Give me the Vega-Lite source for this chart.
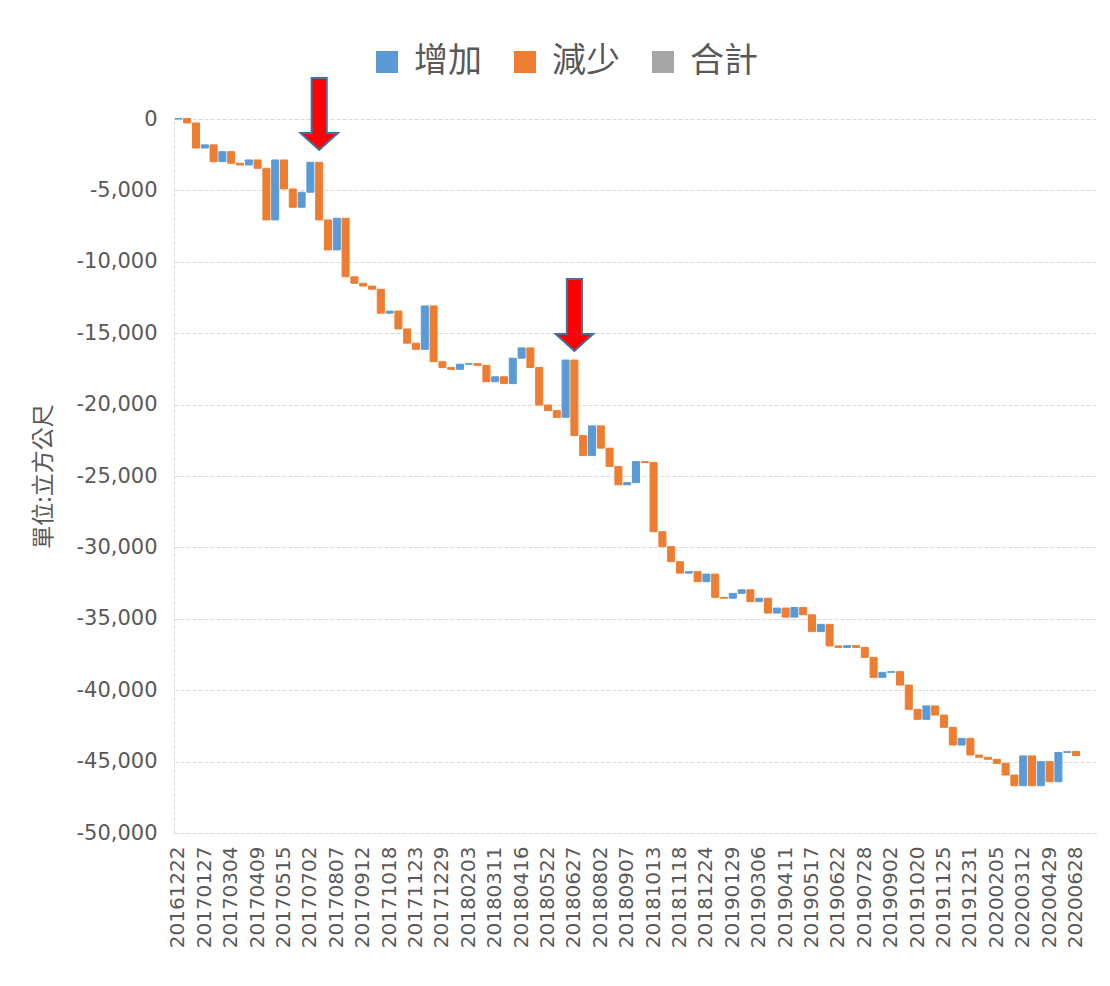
{
  "$schema": "https://vega.github.io/schema/vega-lite/v6.json",
  "autosize": "none",
  "width": 924,
  "height": 714,
  "padding": {"left": 174, "top": 119, "right": 12, "bottom": 153},
  "background": "white",
  "config": {
    "view": {"stroke": null},
    "axis": {"labelColor": "#595959", "titleColor": "#595959", "gridColor": "#d9d9d9", "gridDash": [4, 2], "domainColor": "#d9d9d9", "domainDash": [4, 2], "ticks": false},
    "legend": {"labelFont": "Noto Sans CJK TC", "labelFontSize": 34, "labelColor": "#595959"}
  },
  "datasets": {
    "wf": [
      {"date": "20161222", "start": 0, "end": 30, "type": "增加"},
      {"date": "20170103", "start": 30, "end": -280, "type": "減少"},
      {"date": "20170115", "start": -280, "end": -2030, "type": "減少"},
      {"date": "20170127", "start": -2030, "end": -1810, "type": "增加"},
      {"date": "20170208", "start": -1810, "end": -2990, "type": "減少"},
      {"date": "20170220", "start": -2990, "end": -2290, "type": "增加"},
      {"date": "20170304", "start": -2290, "end": -3100, "type": "減少"},
      {"date": "20170316", "start": -3100, "end": -3220, "type": "減少"},
      {"date": "20170328", "start": -3220, "end": -2870, "type": "增加"},
      {"date": "20170409", "start": -2870, "end": -3450, "type": "減少"},
      {"date": "20170421", "start": -3450, "end": -7070, "type": "減少"},
      {"date": "20170503", "start": -7070, "end": -2870, "type": "增加"},
      {"date": "20170515", "start": -2870, "end": -4900, "type": "減少"},
      {"date": "20170531", "start": -4900, "end": -6180, "type": "減少"},
      {"date": "20170616", "start": -6180, "end": -5130, "type": "增加"},
      {"date": "20170702", "start": -5130, "end": -3030, "type": "增加"},
      {"date": "20170714", "start": -3030, "end": -7070, "type": "減少"},
      {"date": "20170726", "start": -7070, "end": -9170, "type": "減少"},
      {"date": "20170807", "start": -9170, "end": -6950, "type": "增加"},
      {"date": "20170819", "start": -6950, "end": -11050, "type": "減少"},
      {"date": "20170831", "start": -11050, "end": -11500, "type": "減少"},
      {"date": "20170912", "start": -11500, "end": -11700, "type": "減少"},
      {"date": "20170924", "start": -11700, "end": -11920, "type": "減少"},
      {"date": "20171006", "start": -11920, "end": -13600, "type": "減少"},
      {"date": "20171018", "start": -13600, "end": -13450, "type": "增加"},
      {"date": "20171030", "start": -13450, "end": -14700, "type": "減少"},
      {"date": "20171111", "start": -14700, "end": -15700, "type": "減少"},
      {"date": "20171123", "start": -15700, "end": -16130, "type": "減少"},
      {"date": "20171205", "start": -16130, "end": -13090, "type": "增加"},
      {"date": "20171217", "start": -13090, "end": -17000, "type": "減少"},
      {"date": "20171229", "start": -17000, "end": -17410, "type": "減少"},
      {"date": "20180110", "start": -17410, "end": -17530, "type": "減少"},
      {"date": "20180122", "start": -17530, "end": -17170, "type": "增加"},
      {"date": "20180203", "start": -17170, "end": -17130, "type": "增加"},
      {"date": "20180215", "start": -17130, "end": -17250, "type": "減少"},
      {"date": "20180227", "start": -17250, "end": -18400, "type": "減少"},
      {"date": "20180311", "start": -18400, "end": -18050, "type": "增加"},
      {"date": "20180323", "start": -18050, "end": -18530, "type": "減少"},
      {"date": "20180404", "start": -18530, "end": -16750, "type": "增加"},
      {"date": "20180416", "start": -16750, "end": -16030, "type": "增加"},
      {"date": "20180428", "start": -16030, "end": -17400, "type": "減少"},
      {"date": "20180510", "start": -17400, "end": -20030, "type": "減少"},
      {"date": "20180522", "start": -20030, "end": -20420, "type": "減少"},
      {"date": "20180603", "start": -20420, "end": -20890, "type": "減少"},
      {"date": "20180615", "start": -20890, "end": -16880, "type": "增加"},
      {"date": "20180627", "start": -16880, "end": -22170, "type": "減少"},
      {"date": "20180709", "start": -22170, "end": -23570, "type": "減少"},
      {"date": "20180721", "start": -23570, "end": -21490, "type": "增加"},
      {"date": "20180802", "start": -21490, "end": -23050, "type": "減少"},
      {"date": "20180814", "start": -23050, "end": -24330, "type": "減少"},
      {"date": "20180826", "start": -24330, "end": -25620, "type": "減少"},
      {"date": "20180907", "start": -25620, "end": -25460, "type": "增加"},
      {"date": "20180919", "start": -25460, "end": -23990, "type": "增加"},
      {"date": "20181001", "start": -23990, "end": -24060, "type": "減少"},
      {"date": "20181013", "start": -24060, "end": -28900, "type": "減少"},
      {"date": "20181025", "start": -28900, "end": -29950, "type": "減少"},
      {"date": "20181106", "start": -29950, "end": -31000, "type": "減少"},
      {"date": "20181118", "start": -31000, "end": -31800, "type": "減少"},
      {"date": "20181130", "start": -31800, "end": -31700, "type": "增加"},
      {"date": "20181212", "start": -31700, "end": -32400, "type": "減少"},
      {"date": "20181224", "start": -32400, "end": -31870, "type": "增加"},
      {"date": "20190105", "start": -31870, "end": -33500, "type": "減少"},
      {"date": "20190117", "start": -33500, "end": -33560, "type": "減少"},
      {"date": "20190129", "start": -33560, "end": -33220, "type": "增加"},
      {"date": "20190210", "start": -33220, "end": -32970, "type": "增加"},
      {"date": "20190222", "start": -32970, "end": -33800, "type": "減少"},
      {"date": "20190306", "start": -33800, "end": -33560, "type": "增加"},
      {"date": "20190318", "start": -33560, "end": -34600, "type": "減少"},
      {"date": "20190330", "start": -34600, "end": -34250, "type": "增加"},
      {"date": "20190411", "start": -34250, "end": -34880, "type": "減少"},
      {"date": "20190423", "start": -34880, "end": -34210, "type": "增加"},
      {"date": "20190505", "start": -34210, "end": -34720, "type": "減少"},
      {"date": "20190517", "start": -34720, "end": -35900, "type": "減少"},
      {"date": "20190529", "start": -35900, "end": -35390, "type": "增加"},
      {"date": "20190610", "start": -35390, "end": -36900, "type": "減少"},
      {"date": "20190622", "start": -36900, "end": -37000, "type": "減少"},
      {"date": "20190704", "start": -37000, "end": -36880, "type": "增加"},
      {"date": "20190716", "start": -36880, "end": -37000, "type": "減少"},
      {"date": "20190728", "start": -37000, "end": -37700, "type": "減少"},
      {"date": "20190809", "start": -37700, "end": -39100, "type": "減少"},
      {"date": "20190821", "start": -39100, "end": -38750, "type": "增加"},
      {"date": "20190902", "start": -38750, "end": -38700, "type": "增加"},
      {"date": "20190918", "start": -38700, "end": -39640, "type": "減少"},
      {"date": "20191004", "start": -39640, "end": -41340, "type": "減少"},
      {"date": "20191020", "start": -41340, "end": -42040, "type": "減少"},
      {"date": "20191101", "start": -42040, "end": -41100, "type": "增加"},
      {"date": "20191113", "start": -41100, "end": -41740, "type": "減少"},
      {"date": "20191125", "start": -41740, "end": -42600, "type": "減少"},
      {"date": "20191207", "start": -42600, "end": -43840, "type": "減少"},
      {"date": "20191219", "start": -43840, "end": -43370, "type": "增加"},
      {"date": "20191231", "start": -43370, "end": -44540, "type": "減少"},
      {"date": "20200112", "start": -44540, "end": -44700, "type": "減少"},
      {"date": "20200124", "start": -44700, "end": -44840, "type": "減少"},
      {"date": "20200205", "start": -44840, "end": -45120, "type": "減少"},
      {"date": "20200217", "start": -45120, "end": -45940, "type": "減少"},
      {"date": "20200229", "start": -45940, "end": -46690, "type": "減少"},
      {"date": "20200312", "start": -46690, "end": -44600, "type": "增加"},
      {"date": "20200328", "start": -44600, "end": -46690, "type": "減少"},
      {"date": "20200413", "start": -46690, "end": -45000, "type": "增加"},
      {"date": "20200429", "start": -45000, "end": -46410, "type": "減少"},
      {"date": "20200519", "start": -46410, "end": -44360, "type": "增加"},
      {"date": "20200608", "start": -44360, "end": -44300, "type": "增加"},
      {"date": "20200628", "start": -44300, "end": -44570, "type": "減少"}
    ],
    "arrows": [
      {"date": "20170714", "pos": 350},
      {"date": "20180627", "pos": -13720}
    ]
  },
  "layer": [
    {
      "data": {"name": "wf"},
      "mark": {"type": "bar", "strokeWidth": 1},
      "encoding": {
        "x": {
          "field": "date", "type": "ordinal",
          "scale": {
            "domain": ["20161222","20170103","20170115","20170127","20170208","20170220","20170304","20170316","20170328","20170409","20170421","20170503","20170515","20170531","20170616","20170702","20170714","20170726","20170807","20170819","20170831","20170912","20170924","20171006","20171018","20171030","20171111","20171123","20171205","20171217","20171229","20180110","20180122","20180203","20180215","20180227","20180311","20180323","20180404","20180416","20180428","20180510","20180522","20180603","20180615","20180627","20180709","20180721","20180802","20180814","20180826","20180907","20180919","20181001","20181013","20181025","20181106","20181118","20181130","20181212","20181224","20190105","20190117","20190129","20190210","20190222","20190306","20190318","20190330","20190411","20190423","20190505","20190517","20190529","20190610","20190622","20190704","20190716","20190728","20190809","20190821","20190902","20190918","20191004","20191020","20191101","20191113","20191125","20191207","20191219","20191231","20200112","20200124","20200205","20200217","20200229","20200312","20200328","20200413","20200429","20200519","20200608","20200628","20200710","20200722"],
            "paddingInner": 0.2, "paddingOuter": 0.1
          },
          "axis": {
            "title": null,
            "values": ["20161222","20170127","20170304","20170409","20170515","20170702","20170807","20170912","20171018","20171123","20171229","20180203","20180311","20180416","20180522","20180627","20180802","20180907","20181013","20181118","20181224","20190129","20190306","20190411","20190517","20190622","20190728","20190902","20191020","20191125","20191231","20200205","20200312","20200429","20200628"],
            "labelAngle": -90, "labelFont": "DejaVu Sans", "labelFontSize": 20, "labelPadding": 13, "grid": false
          }
        },
        "y": {
          "field": "start", "type": "quantitative",
          "scale": {"domain": [-50000, 0], "nice": false},
          "axis": {
            "title": "單位:立方公尺", "titleFont": "Noto Sans CJK TC", "titleFontSize": 23, "titleFontWeight": "normal", "titlePadding": 20,
            "values": [0, -5000, -10000, -15000, -20000, -25000, -30000, -35000, -40000, -45000, -50000],
            "labelExpr": "replace(format(datum.value, ',.0f'), '−', '-')",
            "labelFont": "DejaVu Sans", "labelFontSize": 21, "labelPadding": 17
          }
        },
        "y2": {"field": "end"},
        "color": {
          "field": "type", "type": "nominal",
          "scale": {"domain": ["增加", "減少", "合計"], "range": ["#5B9BD5", "#ED7D31", "#A5A5A5"]},
          "legend": {"title": null, "orient": "none", "direction": "horizontal", "legendX": 196, "legendY": -74, "symbolType": "square", "symbolSize": 484, "symbolStrokeWidth": 0, "labelOffset": 10, "columnPadding": 26}
        },
        "stroke": {"field": "type", "type": "nominal", "scale": {"domain": ["增加", "減少", "合計"], "range": ["#5B9BD5", "#ED7D31", "#A5A5A5"]}, "legend": null}
      }
    },
    {
      "data": {"name": "arrows"},
      "mark": {"type": "point", "filled": true, "shape": "M-0.21,-1L0.21,-1L0.21,0.53L0.52,0.53L0,1L-0.52,0.53L-0.21,0.53Z", "size": 5184, "fill": "#FF0000", "stroke": "#41719C", "strokeWidth": 2, "opacity": 1},
      "encoding": {
        "x": {"field": "date", "type": "ordinal"},
        "y": {"field": "pos", "type": "quantitative", "title": "單位:立方公尺"}
      }
    }
  ]
}
